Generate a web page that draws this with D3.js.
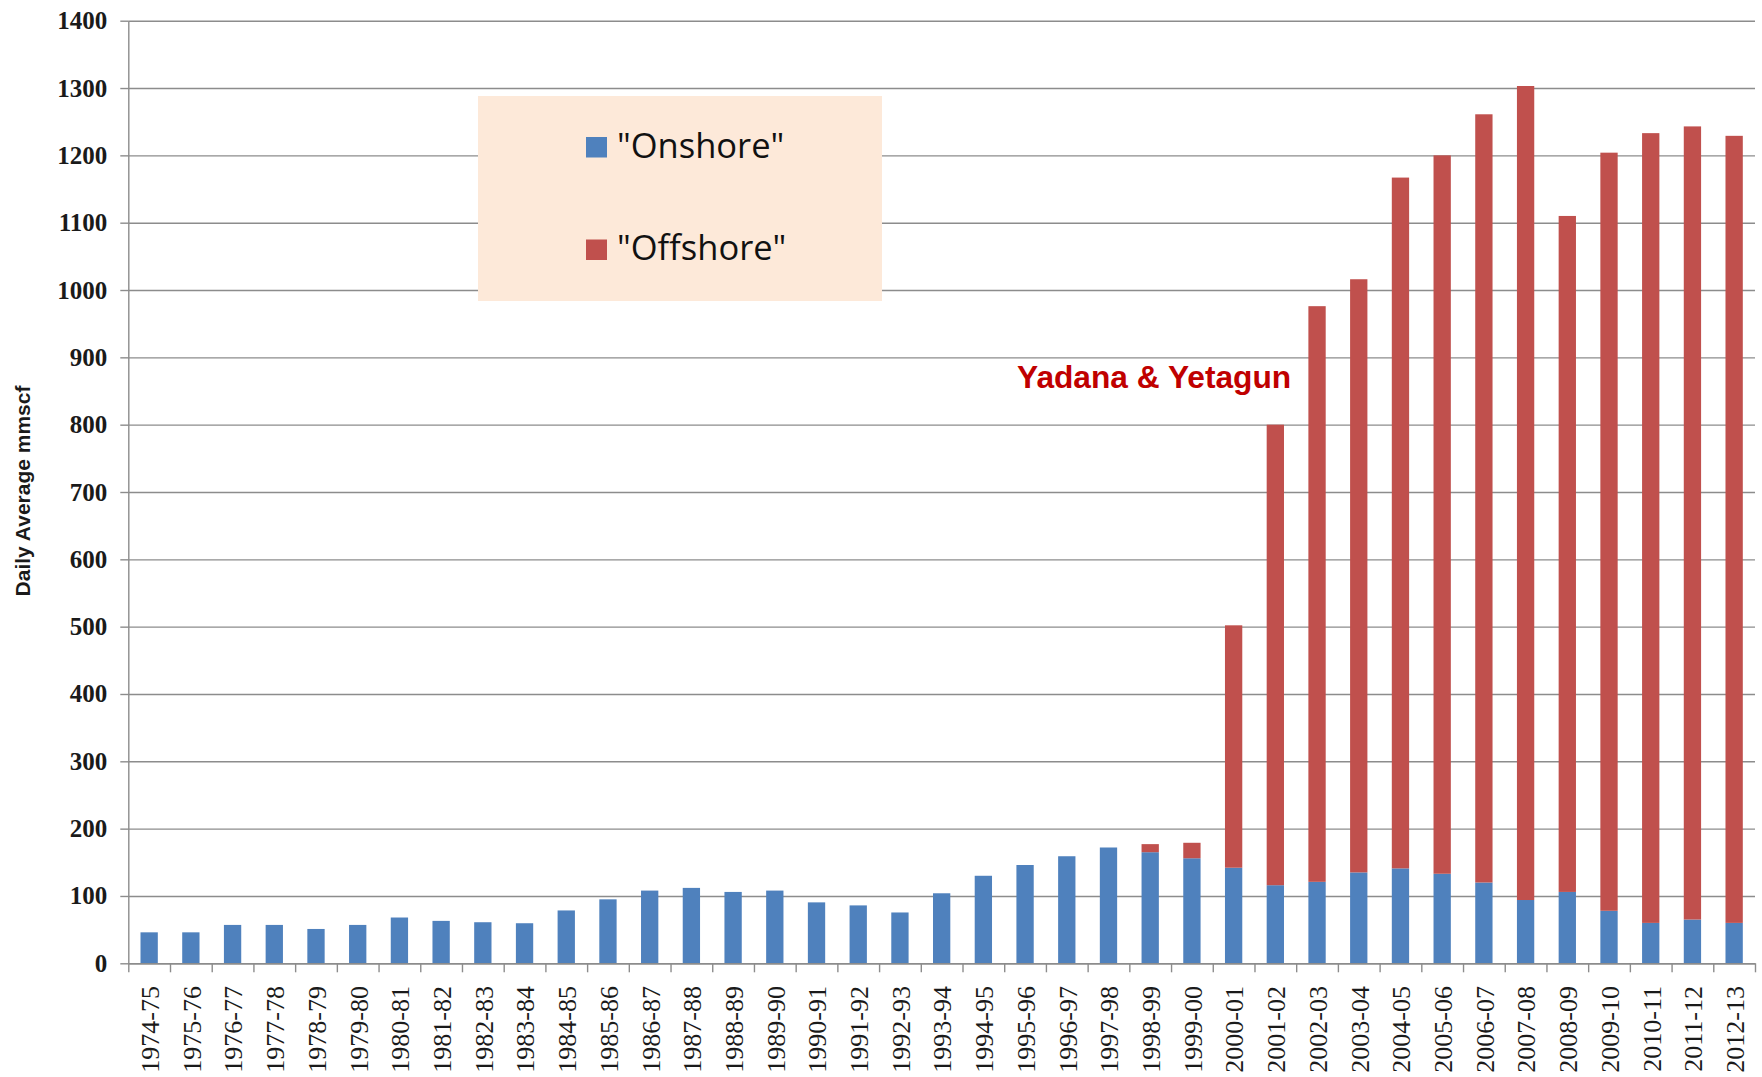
<!DOCTYPE html>
<html>
<head>
<meta charset="utf-8">
<script src="https://d3js.org/d3.v7.min.js"></script>
<style>
  body { margin: 0; background: #fff; }
  svg { display: block; background: #fff; }
  .grid line { stroke: #8c8c8c; stroke-width: 1.4; }
  .grid .domain { display: none; }
  .axis line, .axis path { stroke: #8c8c8c; stroke-width: 1.4; }
  .y-axis text { font-family: "Liberation Serif", serif; font-weight: bold; font-size: 25px; fill: #1a1a1a; }
  .x-label { font-family: "Liberation Serif", serif; font-size: 26px; fill: #1a1a1a; }
</style>
</head>
<body>
<svg width="1762" height="1077"></svg>
<script>
// financial years
var years = ['1974-75','1975-76','1976-77','1977-78','1978-79','1979-80','1980-81','1981-82',
  '1982-83','1983-84','1984-85','1985-86','1986-87','1987-88','1988-89','1989-90','1990-91',
  '1991-92','1992-93','1993-94','1994-95','1995-96','1996-97','1997-98','1998-99','1999-00',
  '2000-01','2001-02','2002-03','2003-04','2004-05','2005-06','2006-07','2007-08','2008-09',
  '2009-10','2010-11','2011-12','2012-13'];

// daily average mmscf
var onshore = [46, 46, 57, 57, 51, 57, 68, 63, 61, 59.5, 78.5, 95, 108, 112, 106, 108, 90.5,
  86, 75.5, 104, 130, 146, 159, 172, 165, 156, 142, 116, 121, 135, 141, 133, 120, 94, 106,
  78, 60, 65, 60];
var offshore = [0, 0, 0, 0, 0, 0, 0, 0, 0, 0, 0, 0, 0, 0, 0, 0, 0, 0, 0, 0, 0, 0, 0, 0,
  12, 23, 360, 684, 855, 881, 1026, 1067, 1141, 1209, 1004, 1126, 1173, 1178, 1169];

var seriesNames = ['"Onshore"', '"Offshore"'];
var seriesColors = ['#4f81bd', '#c0504d'];
var yTicks = d3.range(0, 1401, 100);

var root = d3.select('svg');
var L = 128.3, R = 1755, T = 20.7, B = 963.3;

var x = d3.scaleBand().domain(years).range([L, R]).paddingInner(0.585).paddingOuter(0.2925);
var xEdge = d3.scaleLinear().domain([0, years.length]).range([L, R]);
var y = d3.scaleLinear().domain([0, 1400]).range([B, T]);

// gridlines
root.append('g').attr('class', 'grid')
  .attr('transform', 'translate(' + L + ',0)')
  .call(d3.axisLeft(y).tickValues(yTicks).tickSize(-(R - L)).tickFormat(''));

// bars
var table = years.map(function (d, i) { return { year: d, on: onshore[i], off: offshore[i] }; });
var stack = d3.stack().keys(['on', 'off'])(table);

root.append('g').selectAll('g').data(stack).join('g')
  .attr('fill', function (d, i) { return seriesColors[i]; })
  .selectAll('rect').data(function (d) { return d; }).join('rect')
  .attr('x', function (d) { return x(d.data.year); })
  .attr('width', x.bandwidth())
  .attr('y', function (d) { return y(d[1]); })
  .attr('height', function (d) { return y(d[0]) - y(d[1]); });

// axes
root.append('g').attr('class', 'axis y-axis')
  .attr('transform', 'translate(' + L + ',0)')
  .call(d3.axisLeft(y).tickValues(yTicks).tickFormat(d3.format('d'))
    .tickSizeInner(8).tickSizeOuter(0).tickPadding(13));

root.append('g').attr('class', 'axis x-axis')
  .attr('transform', 'translate(0,' + B + ')')
  .call(d3.axisBottom(xEdge).tickValues(d3.range(0, years.length + 1)).tickSizeInner(9).tickSizeOuter(0).tickFormat(''));

root.append('g').selectAll('text').data(years).join('text')
  .attr('class', 'x-label')
  .attr('transform', function (d) { return 'translate(' + (x(d) + x.bandwidth() / 2 + 1) + ',986) rotate(-90)'; })
  .attr('text-anchor', 'end')
  .attr('dy', '0.34em')
  .text(function (d) { return d; });

// y title
root.append('text')
  .attr('transform', 'translate(30,491) rotate(-90)')
  .attr('text-anchor', 'middle')
  .style('font-family', '"Liberation Sans", Arial, sans-serif')
  .style('font-weight', 'bold')
  .style('font-size', '21px')
  .style('fill', '#1a1a1a')
  .text('Daily Average mmscf');

// legend
var lg = root.append('g');
lg.append('rect').attr('x', 478).attr('y', 96).attr('width', 404).attr('height', 205).attr('fill', '#fde9d9');
var rows = lg.selectAll('g').data(seriesNames).join('g')
  .attr('transform', function (d, i) { return 'translate(586,' + (157.5 + i * 102.5) + ')'; });
rows.append('rect').attr('x', 0).attr('y', -20.5).attr('width', 21).attr('height', 20.5)
  .attr('fill', function (d, i) { return seriesColors[i]; });
rows.append('text').attr('x', 31).attr('y', 0)
  .style('font-family', '"Open Sans", sans-serif')
  .style('font-size', '34.5px')
  .style('fill', '#111')
  .text(function (d) { return d; });

// annotation
root.append('text')
  .attr('x', 1017).attr('y', 388)
  .style('font-family', '"Liberation Sans", Arial, sans-serif')
  .style('font-weight', 'bold')
  .style('font-size', '31.7px')
  .style('fill', '#c00000')
  .text('Yadana & Yetagun');
</script>
</body>
</html>
